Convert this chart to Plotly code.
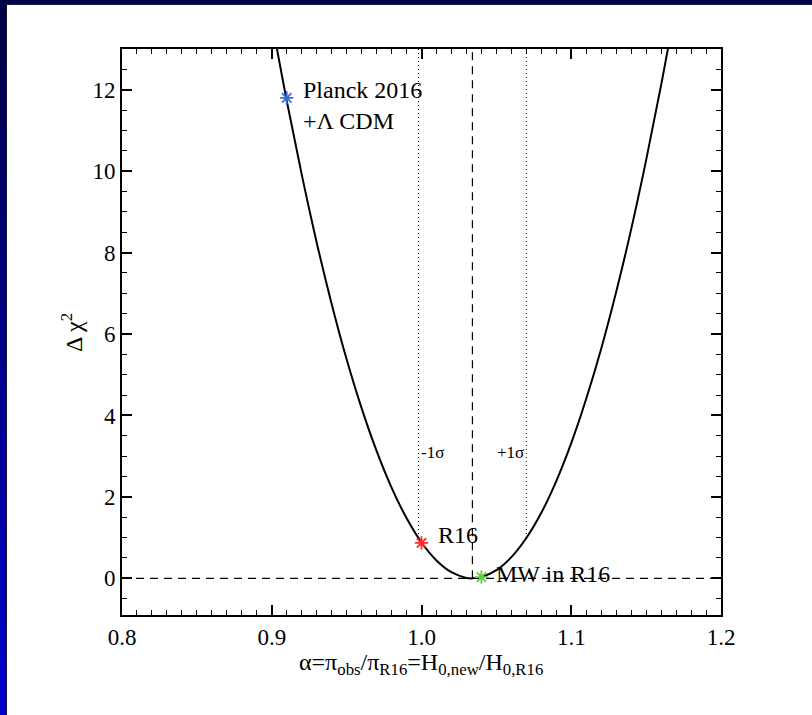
import plotly.graph_objects as go

# ---- data ----
alpha = [0.90, 0.91, 0.92, 0.93, 0.94, 0.95, 0.96, 0.97, 0.98, 0.99, 1.00,
         1.01, 1.02, 1.03, 1.034, 1.04, 1.05, 1.06, 1.07, 1.08, 1.09, 1.10,
         1.11, 1.12, 1.13, 1.14, 1.15, 1.16, 1.17]
dchi2 = [13.70, 11.73, 9.92, 8.25, 6.74, 5.38, 4.18, 3.13, 2.23, 1.48, 0.88,
         0.44, 0.15, 0.01, 0.00, 0.03, 0.20, 0.52, 0.99, 1.61, 2.39, 3.32,
         4.41, 5.64, 7.03, 8.57, 10.27, 12.11, 14.11]

best_alpha = 1.034
sigma_lo = 0.998
sigma_hi = 1.070
sigma_lo_y = 0.99
sigma_hi_y = 0.99

point_names = ["Planck 2016<br>+Λ CDM", "R16", "MW in R16"]
point_x = [0.91, 1.00, 1.04]
point_y = [11.8, 0.87, 0.03]
point_colors = ["#3a6ad4", "#ff2a2a", "#5fcf3a"]

xticks = [0.8, 0.9, 1.0, 1.1, 1.2]
xticklabels = ["0.8", "0.9", "1.0", "1.1", "1.2"]
yticks = [0, 2, 4, 6, 8, 10, 12]

W, H = 812, 715
L, R, T, B = 122, 91, 49, 100
pw, ph = W - L - R, H - T - B
FONT = "Liberation Serif"

fig = go.Figure()

fig.add_trace(go.Scatter(x=alpha, y=dchi2, mode="lines",
                         line=dict(color="black", width=2, shape="spline"),
                         showlegend=False, hoverinfo="skip"))
fig.add_trace(go.Scatter(x=[0.8, 1.2], y=[0, 0], mode="lines",
                         line=dict(color="black", width=1.2, dash="8px,6px"),
                         showlegend=False, hoverinfo="skip"))
fig.add_trace(go.Scatter(x=[best_alpha, best_alpha], y=[0, 13], mode="lines",
                         line=dict(color="black", width=1.2, dash="8px,6px"),
                         showlegend=False, hoverinfo="skip"))
for sx, sy in [(sigma_lo, sigma_lo_y), (sigma_hi, sigma_hi_y)]:
    fig.add_trace(go.Scatter(x=[sx, sx], y=[sy, 13], mode="lines",
                             line=dict(color="black", width=1, dash="1px,3px"),
                             showlegend=False, hoverinfo="skip"))
fig.add_trace(go.Scatter(x=point_x, y=point_y, mode="markers",
                         marker=dict(symbol="asterisk-open", size=11, color=point_colors,
                                     line=dict(color=point_colors, width=1.8)),
                         showlegend=False, hoverinfo="skip"))

fig.add_annotation(x=point_x[0], y=point_y[0], text=point_names[0], showarrow=False,
                   xanchor="left", yanchor="top", xshift=14, yshift=23, align="left",
                   font=dict(family=FONT, size=24, color="black"))
fig.add_annotation(x=point_x[1], y=point_y[1], text=point_names[1], showarrow=False,
                   xanchor="left", yanchor="middle", xshift=14, yshift=8,
                   font=dict(family=FONT, size=24, color="black"))
fig.add_annotation(x=point_x[2], y=point_y[2], text=point_names[2], showarrow=False,
                   xanchor="left", yanchor="middle", xshift=13, yshift=3,
                   font=dict(family=FONT, size=24, color="black"))
fig.add_annotation(x=sigma_lo, y=3.1, text="-1σ", showarrow=False,
                   xanchor="left", yanchor="middle", xshift=0,
                   font=dict(family=FONT, size=17, color="black"))
fig.add_annotation(x=sigma_hi, y=3.1, text="+1σ", showarrow=False,
                   xanchor="right", yanchor="middle", xshift=0,
                   font=dict(family=FONT, size=17, color="black"))

fig.add_annotation(xref="paper", yref="paper", x=(421 - L) / pw, y=(H - 664 - B) / ph,
                   text="α=π<sub>obs</sub>/π<sub>R16</sub>=H<sub>0,new</sub>/H<sub>0,R16</sub>",
                   showarrow=False, xanchor="center", yanchor="middle",
                   font=dict(family=FONT, size=24, color="black"))
fig.add_annotation(xref="paper", yref="paper", x=(72 - L) / pw, y=(H - B - 333) / ph,
                   text="Δ χ<sup>2</sup>", textangle=-90,
                   showarrow=False, xanchor="center", yanchor="middle",
                   font=dict(family=FONT, size=24, color="black"))

def px2x(p):
    return (p - L) / pw

def py2y(p):
    return (H - B - p) / ph

n = 40
for i in range(n):
    y0 = H * i / n
    y1 = H * (i + 1) / n
    f = i / (n - 1)
    b = int(70 + f * (205 - 70))
    c = "rgb(0,0,%d)" % b
    fig.add_shape(type="rect", xref="paper", yref="paper",
                  x0=px2x(0), x1=px2x(6), y0=py2y(y0), y1=py2y(y1 + 1),
                  line=dict(width=0), fillcolor=c, layer="above")
fig.add_shape(type="rect", xref="paper", yref="paper",
              x0=px2x(0), x1=px2x(W), y0=py2y(0), y1=py2y(4),
              line=dict(width=0), fillcolor="#00004a", layer="above")
fig.add_shape(type="line", xref="paper", yref="paper",
              x0=px2x(6), x1=px2x(W), y0=py2y(4.5), y1=py2y(4.5),
              line=dict(width=1, color="#202040"), layer="above")
fig.add_shape(type="line", xref="paper", yref="paper",
              x0=px2x(6.5), x1=px2x(6.5), y0=py2y(4), y1=py2y(H),
              line=dict(width=1, color="#101030"), layer="above")

axis_common = dict(showgrid=False, zeroline=False, showline=True, linecolor="black",
                   linewidth=2, mirror="ticks", ticks="inside", ticklen=10,
                   tickwidth=1.5, tickcolor="black",
                   tickfont=dict(family=FONT, size=23, color="black"))
fig.update_xaxes(range=[0.8, 1.2], tickvals=xticks, ticktext=xticklabels,
                 minor=dict(dtick=0.01, ticks="inside", ticklen=5, tickwidth=1.2,
                            tickcolor="black", showgrid=False),
                 **axis_common)
fig.update_yaxes(range=[-0.9, 13], tickvals=yticks,
                 minor=dict(dtick=0.5, ticks="inside", ticklen=5, tickwidth=1.2,
                            tickcolor="black", showgrid=False),
                 **axis_common)

fig.update_layout(width=W, height=H, margin=dict(l=L, r=R, t=T, b=B),
                  paper_bgcolor="white", plot_bgcolor="white",
                  font=dict(family=FONT, color="black"))

fig.write_html("out.html")
